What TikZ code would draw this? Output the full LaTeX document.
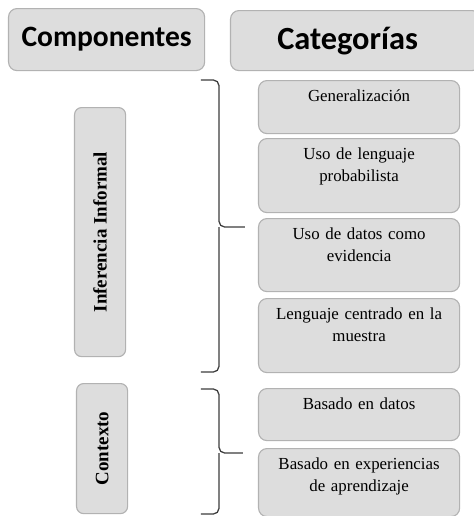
\documentclass[tikz,border=0pt]{standalone}
\usepackage{fontspec}
\setmainfont{Liberation Serif}
\newfontfamily\headfont{Carlito}
\definecolor{boxfill}{RGB}{221,221,221}
\definecolor{boxline}{RGB}{178,178,178}
\definecolor{bracecol}{RGB}{60,60,60}
\tikzset{
  headbox/.style={draw=boxline, fill=boxfill, thick, rounded corners=6pt, anchor=north west, inner sep=0pt, font=\headfont\bfseries\fontsize{21}{25}\selectfont},
  compbox/.style={draw=boxline, fill=boxfill, thick, rounded corners=5pt, anchor=north west, inner sep=0pt, minimum width=1.275cm},
  comptext/.style={rotate=90, font=\bfseries\fontsize{13.5}{16}\selectfont},
  catbox/.style={draw=boxline, fill=boxfill, thick, rounded corners=6pt, anchor=north west, inner sep=0pt, minimum width=5.025cm},
  cattext/.style={anchor=north, label distance=-0.24cm, text width=4.8cm, align=center, inner sep=0pt, font=\fontsize{12}{15.5}\selectfont},
  bracket/.style={draw=bracecol, line width=0.9pt, rounded corners=4pt}
}
\begin{document}
\begin{tikzpicture}[x=0.025cm, y=-0.025cm]
    \useasboundingbox (0,0) rectangle (474,516);

    % Column headers
    \node[headbox, minimum width=4.9cm, minimum height=1.55cm] (componentes) at (8,8) {Componentes};
    \node[headbox, minimum width=6.25cm, minimum height=1.5cm, font=\headfont\bfseries\fontsize{23}{27}\selectfont] (categorias) at (230,10) {\hspace{-0.4cm}Categorías};

    % Components (vertical boxes)
    \node[compbox, minimum height=6.225cm] (inferencia) at (74,107) {};
    \node[comptext] (inferenciatxt) at (inferencia.center) {Inferencia Informal};
    \node[compbox, minimum height=3.25cm] (contexto) at (76,383) {};
    \node[comptext] (contextotxt) at (contexto.center) {Contexto};

    % Categories of Inferencia Informal
    \node[catbox, minimum height=1.325cm, label={[cattext]north:Generalización}] (generalizacion) at (258,80) {};
    \node[catbox, minimum height=1.85cm, label={[cattext]north:{Uso de lenguaje\\probabilista}}] (lenguaje) at (258,138) {};
    \node[catbox, minimum height=1.825cm, label={[cattext]north:{Uso de datos como\\evidencia}}] (datos) at (258,218) {};
    \node[catbox, minimum height=1.85cm, label={[cattext]north:{Lenguaje centrado en la\\muestra}}] (muestra) at (258,298) {};

    % Categories of Contexto
    \node[catbox, minimum height=1.3cm, label={[cattext]north:Basado en datos}] (basadodatos) at (258,388) {};
    \node[catbox, minimum height=1.7cm, label={[cattext]north:{Basado en experiencias\\de aprendizaje}}] (experiencias) at (258,448) {};

    % Brackets
    \coordinate (infTop) at (201,80);
    \coordinate (infBot) at (201,372);
    \coordinate (infMid) at (219,227);
    \coordinate (infTip) at (245,227);
    \draw[bracket] (infTop) -| (infMid) -- (infTip);
    \draw[bracket] (infBot) -| (infMid);

    \coordinate (ctxTop) at (201,389);
    \coordinate (ctxBot) at (201,514);
    \coordinate (ctxMid) at (219,453);
    \coordinate (ctxTip) at (243,453);
    \draw[bracket] (ctxTop) -| (ctxMid) -- (ctxTip);
    \draw[bracket] (ctxBot) -| (ctxMid);
\end{tikzpicture}
\end{document}
